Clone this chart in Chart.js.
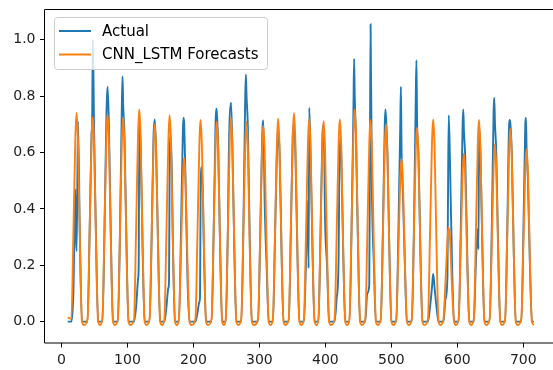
<!DOCTYPE html>
<html lang="en">
<head>
<meta charset="UTF-8">
<title>Actual vs CNN_LSTM Forecasts</title>
<script src="https://cdn.jsdelivr.net/npm/chart.js"></script>
<style>
  body { margin: 0; background: #fff; overflow: hidden; }
  #chart { display: block; }
</style>
</head>
<body>
<canvas id="chart" width="553" height="370"></canvas>
<script>
// hour index of each daily peak
const peakHours = [23, 47.5, 70, 93.5, 118, 141.5, 164, 186, 211, 235.5,
                   257, 280.5, 306, 328.5, 352.5, 375.5, 397.5, 422, 444.5, 468.5,
                   492, 515.5, 539, 563.5, 587, 610, 633, 657, 680.5, 705];
// hours around each peak where the values below are sampled
const sampleOffsets = [-8, -5, -2, -1, 0, 2, 5, 8, 11];
const startHour = 9.5;
const startActual = 0.0;
const startForecast = 0.015;

const actualByDay = [
  [0, 0.10, 0.47, 0.30, 0.25, 0.71, 0.28, 0, 0],
  [0, 0.30, 0.66, 0.72, 1.00, 0.66, 0.27, 0, 0],
  [0, 0.30, 0.72, 0.80, 0.833, 0.68, 0.28, 0, 0],
  [0, 0.30, 0.77, 0.87, 0.77, 0.66, 0.28, 0, 0],
  [0, 0.05, 0.15, 0.20, 0.70, 0.62, 0.25, 0, 0],
  [0, 0.28, 0.66, 0.70, 0.717, 0.60, 0.25, 0, 0],
  [0, 0.05, 0.12, 0.14, 0.60, 0.66, 0.26, 0, 0],
  [0, 0.30, 0.68, 0.723, 0.70, 0.50, 0.15, 0, 0],
  [0, 0.03, 0.07, 0.09, 0.50, 0.55, 0.24, 0, 0],
  [0, 0.30, 0.70, 0.755, 0.74, 0.62, 0.25, 0, 0],
  [0, 0.30, 0.76, 0.76, 0.777, 0.62, 0.25, 0, 0],
  [0, 0.30, 0.80, 0.877, 0.80, 0.69, 0.27, 0, 0],
  [0, 0.28, 0.636, 0.70, 0.714, 0.42, 0.19, 0, 0],
  [0, 0.28, 0.60, 0.636, 0.68, 0.60, 0.25, 0, 0],
  [0, 0.30, 0.66, 0.69, 0.70, 0.60, 0.25, 0, 0],
  [0, 0.20, 0.43, 0.19, 0.759, 0.60, 0.25, 0, 0],
  [0, 0.30, 0.66, 0.69, 0.70, 0.357, 0.20, 0, 0],
  [0, 0.08, 0.22, 0.50, 0.647, 0.60, 0.25, 0, 0],
  [0, 0.30, 0.75, 0.932, 0.80, 0.64, 0.26, 0, 0],
  [0, 0.10, 0.13, 0.60, 1.055, 0.47, 0.20, 0, 0],
  [0, 0.30, 0.70, 0.753, 0.72, 0.60, 0.25, 0, 0],
  [0, 0.30, 0.70, 0.833, 0.60, 0.45, 0.20, 0, 0],
  [0, 0.30, 0.80, 0.927, 0.707, 0.60, 0.25, 0, 0],
  [0, 0.05, 0.12, 0.15, 0.169, 0.12, 0.05, 0, 0],
  [0, 0.08, 0.16, 0.50, 0.732, 0.55, 0.20, 0, 0],
  [0, 0.30, 0.70, 0.753, 0.676, 0.58, 0.24, 0, 0],
  [0, 0.20, 0.33, 0.257, 0.69, 0.60, 0.25, 0, 0],
  [0, 0.30, 0.75, 0.794, 0.706, 0.60, 0.25, 0, 0],
  [0, 0.30, 0.70, 0.715, 0.70, 0.60, 0.25, 0, 0],
  [0, 0.30, 0.70, 0.723, 0.61, 0.50, 0.20, 0, 0]
];

const forecastByDay = [
  [0.01, 0.31, 0.65, 0.71, 0.74, 0.64, 0.27, 0.0, -0.012],
  [0.01, 0.30, 0.64, 0.70, 0.725, 0.62, 0.26, 0.0, -0.012],
  [0.01, 0.31, 0.65, 0.71, 0.735, 0.63, 0.26, 0.0, -0.012],
  [0.01, 0.30, 0.64, 0.69, 0.723, 0.62, 0.26, 0.0, -0.012],
  [0.01, 0.32, 0.66, 0.72, 0.753, 0.65, 0.27, 0.0, -0.012],
  [0.01, 0.29, 0.62, 0.67, 0.70, 0.60, 0.25, 0.0, -0.012],
  [0.01, 0.31, 0.64, 0.70, 0.732, 0.63, 0.26, 0.0, -0.012],
  [0.01, 0.24, 0.51, 0.56, 0.58, 0.50, 0.21, 0.0, -0.012],
  [0.01, 0.30, 0.63, 0.69, 0.715, 0.61, 0.26, 0.0, -0.012],
  [0.01, 0.30, 0.62, 0.68, 0.71, 0.61, 0.26, 0.0, -0.012],
  [0.01, 0.30, 0.64, 0.69, 0.723, 0.62, 0.26, 0.0, -0.012],
  [0.01, 0.30, 0.62, 0.68, 0.708, 0.61, 0.25, 0.0, -0.012],
  [0.01, 0.29, 0.61, 0.67, 0.694, 0.60, 0.25, 0.0, -0.012],
  [0.01, 0.30, 0.63, 0.69, 0.72, 0.62, 0.26, 0.0, -0.012],
  [0.01, 0.31, 0.65, 0.71, 0.739, 0.64, 0.27, 0.0, -0.012],
  [0.01, 0.30, 0.63, 0.69, 0.72, 0.62, 0.26, 0.0, -0.012],
  [0.01, 0.30, 0.63, 0.68, 0.711, 0.61, 0.26, 0.0, -0.012],
  [0.01, 0.30, 0.63, 0.69, 0.717, 0.62, 0.26, 0.0, -0.012],
  [0.01, 0.32, 0.66, 0.72, 0.753, 0.65, 0.27, 0.0, -0.012],
  [0.01, 0.30, 0.63, 0.69, 0.715, 0.61, 0.26, 0.0, -0.012],
  [0.01, 0.29, 0.62, 0.67, 0.70, 0.60, 0.25, 0.0, -0.012],
  [0.01, 0.24, 0.51, 0.55, 0.576, 0.50, 0.21, 0.0, -0.012],
  [0.01, 0.29, 0.61, 0.66, 0.688, 0.59, 0.25, 0.0, -0.012],
  [0.01, 0.30, 0.63, 0.69, 0.717, 0.62, 0.26, 0.0, -0.012],
  [0.01, 0.14, 0.29, 0.32, 0.334, 0.29, 0.12, 0.0, -0.012],
  [0.01, 0.25, 0.53, 0.57, 0.597, 0.51, 0.21, 0.0, -0.012],
  [0.01, 0.30, 0.63, 0.69, 0.715, 0.61, 0.26, 0.0, -0.012],
  [0.01, 0.26, 0.55, 0.60, 0.629, 0.54, 0.23, 0.0, -0.012],
  [0.01, 0.29, 0.60, 0.66, 0.684, 0.59, 0.25, 0.0, -0.012],
  [0.01, 0.26, 0.54, 0.59, 0.611, 0.53, 0.22, 0.0, -0.012]
];

const xTicks = [0, 100, 200, 300, 400, 500, 600, 700];
const yTicks = [0, 0.2, 0.4, 0.6, 0.8, 1.0];

function buildSeries(byDay, first) {
  const pts = [{ x: startHour, y: first }];
  peakHours.forEach((p, d) => {
    sampleOffsets.forEach((o, i) => pts.push({ x: p + o, y: byDay[d][i] }));
  });
  return pts;
}

const FONT = '"DejaVu Sans", sans-serif';

// axes frame: left, top and bottom spines, running out to the canvas edge
const frame = {
  id: 'frame',
  afterDraw(chart) {
    const { ctx, chartArea: a, width } = chart;
    ctx.save();
    ctx.strokeStyle = '#000';
    ctx.lineWidth = 1;
    ctx.beginPath();
    ctx.moveTo(width, a.top + 0.5);
    ctx.lineTo(a.left - 0.5, a.top + 0.5);
    ctx.lineTo(a.left - 0.5, a.bottom + 0.5);
    ctx.lineTo(width, a.bottom + 0.5);
    ctx.stroke();
    ctx.restore();
  }
};

// legend box in the upper left corner, drawn over the lines
const legendBox = {
  id: 'legendBox',
  afterDatasetsDraw(chart) {
    const ctx = chart.ctx;
    const x = 54.5, y = 17.5, w = 213, h = 52, r = 3;
    ctx.save();
    ctx.beginPath();
    ctx.moveTo(x + r, y);
    ctx.arcTo(x + w, y, x + w, y + h, r);
    ctx.arcTo(x + w, y + h, x, y + h, r);
    ctx.arcTo(x, y + h, x, y, r);
    ctx.arcTo(x, y, x + w, y, r);
    ctx.closePath();
    ctx.fillStyle = 'rgba(255,255,255,0.8)';
    ctx.fill();
    ctx.strokeStyle = '#cccccc';
    ctx.lineWidth = 1;
    ctx.stroke();

    ctx.font = '15px ' + FONT;
    ctx.textBaseline = 'middle';
    ctx.fillStyle = '#000';
    chart.data.datasets.forEach((ds, i) => {
      const ly = 31 + i * 23.5;
      ctx.strokeStyle = ds.borderColor;
      ctx.lineWidth = 2;
      ctx.beginPath();
      ctx.moveTo(59, ly);
      ctx.lineTo(91, ly);
      ctx.stroke();
      ctx.fillText(ds.label, 102, ly + 1);
    });
    ctx.restore();
  }
};

new Chart(document.getElementById('chart'), {
  type: 'line',
  data: {
    datasets: [
      {
        label: 'Actual',
        data: buildSeries(actualByDay, startActual),
        borderColor: '#1f77b4',
        order: 1
      },
      {
        label: 'CNN_LSTM Forecasts',
        data: buildSeries(forecastByDay, startForecast),
        borderColor: '#ff7f0e',
        order: 0
      }
    ]
  },
  options: {
    responsive: false,
    animation: false,
    devicePixelRatio: 1,
    layout: { padding: { top: 9, left: 0, right: 0, bottom: 0 } },
    elements: {
      line: { borderWidth: 1.9, cubicInterpolationMode: 'monotone', fill: false },
      point: { radius: 0 }
    },
    plugins: {
      legend: { display: false },
      tooltip: { enabled: false }
    },
    scales: {
      x: {
        type: 'linear',
        min: -25,
        max: 745,
        afterBuildTicks: axis => { axis.ticks = xTicks.map(v => ({ value: v })); },
        afterFit: axis => { axis.height = 27.5; },
        grid: { display: true, drawOnChartArea: false, drawTicks: true, tickLength: 5, color: '#000' },
        border: { display: false },
        ticks: {
          autoSkip: false, maxRotation: 0, padding: 4,
          color: '#222', font: { family: FONT, size: 14 },
          callback: v => String(v)
        }
      },
      y: {
        min: -0.074,
        max: 1.109,
        afterBuildTicks: axis => { axis.ticks = yTicks.map(v => ({ value: v })); },
        // fixed width, and no extra room reserved for the end labels
        afterFit: axis => { axis.width = 45; axis.paddingTop = 0; axis.paddingBottom = 0; },
        grid: { display: true, drawOnChartArea: false, drawTicks: true, tickLength: 5, color: '#000' },
        border: { display: false },
        ticks: {
          padding: 4.5,
          color: '#222', font: { family: FONT, size: 14 },
          callback: v => v.toFixed(1)
        }
      }
    }
  },
  plugins: [frame, legendBox]
});
</script>
</body>
</html>
